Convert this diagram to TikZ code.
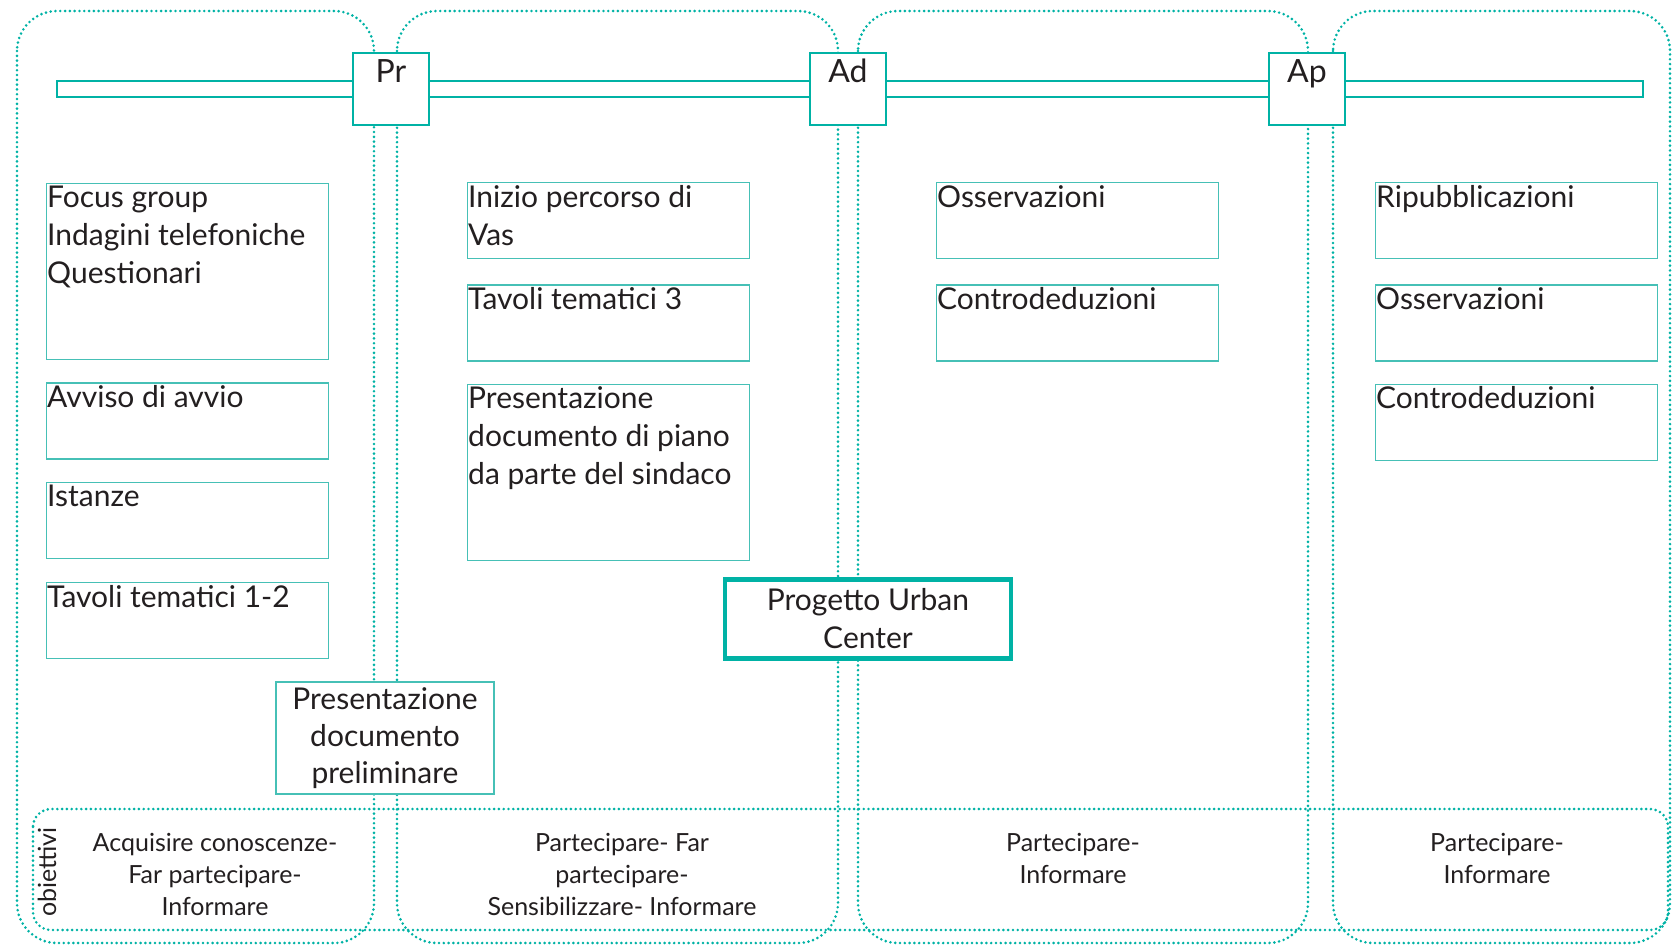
\documentclass[tikz,border=0pt]{standalone}
\usepackage{fontspec}
\setmainfont{Lato}
\usetikzlibrary{positioning}
\definecolor{phaseteal}{RGB}{0,178,165}
\definecolor{itemteal}{RGB}{70,192,182}
\definecolor{textgray}{RGB}{35,31,32}
\tikzset{
    phasebox/.style={draw=phaseteal, line width=2.9pt, line cap=round, dash pattern=on 0pt off 4.8pt, rounded corners=40pt},
    goalbox/.style={draw=phaseteal, line width=2.9pt, line cap=round, dash pattern=on 0pt off 4.8pt, rounded corners=18pt},
    timebar/.style={rectangle, draw=phaseteal, line width=2.3pt, fill=white, minimum width=1586pt, minimum height=16pt, inner sep=0pt},
    stagebox/.style={rectangle, draw=phaseteal, line width=2.6pt, fill=white, minimum width=76pt, minimum height=72pt, inner sep=0pt},
    stagelabel/.style={font=\fontsize{32}{38}\selectfont, text=textgray, inner sep=0pt, anchor=base},
    itembox/.style={rectangle, draw=itemteal, line width=1.3pt, fill=white, minimum width=282pt, minimum height=76pt, inner sep=0pt, anchor=north west},
    itemtext/.style={font=\fontsize{30}{38}\selectfont, text=textgray, align=left, inner xsep=1pt, inner ysep=3pt, anchor=north west},
    goaltext/.style={font=\fontsize{25}{32}\selectfont, text=textgray, align=center, inner sep=0pt},
}
\begin{document}
\begin{tikzpicture}[x=1pt, y=-1pt, node distance=23pt]
\useasboundingbox (0,0) rectangle (1675,945);

% phases and objectives
\foreach \xa/\xb in {17/374, 397/838, 858/1308, 1333/1670}
    \draw[phasebox] (\xa,11) rectangle (\xb,943);
\draw[goalbox] (33,809) rectangle (1668,930);

% timeline
\node[timebar] (bar) at (850,89) {};
\node[stagebox] (pr) at (391,89) {};
\node[stagebox] (ad) at (848,89) {};
\node[stagebox] (ap) at (1307,89) {};
\node[stagelabel] (pr-label) at ([yshift=-31pt]pr.north) {Pr};
\node[stagelabel] (ad-label) at ([yshift=-31pt]ad.north) {Ad};
\node[stagelabel] (ap-label) at ([yshift=-31pt]ap.north) {Ap};

% column 1
\node[itembox, minimum height=176pt] (focus) at (46,183) {};
\node[itembox, below=22pt of focus] (avviso) {};
\node[itembox, below=22pt of avviso] (istanze) {};
\node[itembox, below=23pt of istanze] (tavoli12) {};
\node[itemtext] at (focus.north west) {Focus group\\Indagini telefoniche\\Questionari};
\node[itemtext] at (avviso.north west) {Avviso di avvio};
\node[itemtext] at (istanze.north west) {Istanze};
\node[itemtext] at (tavoli12.north west) {Tavoli tematici 1-2};
\node[itembox, anchor=center, minimum width=218pt, minimum height=112pt, align=center, font=\fontsize{30}{37}\selectfont, text=textgray] (prelim) at (385,738) {Presentazione\\documento\\preliminare};

% column 2
\node[itembox] (vas) at (467,182) {};
\node[itembox, below=25pt of vas] (tavoli3) {};
\node[itembox, minimum height=176pt, below=22pt of tavoli3] (piano) {};
\node[itemtext] at (vas.north west) {Inizio percorso di\\Vas};
\node[itemtext] at (tavoli3.north west) {Tavoli tematici 3};
\node[itemtext] at (piano.north west) {Presentazione\\documento di piano\\da parte del sindaco};
\node[rectangle, draw=phaseteal, line width=4.5pt, fill=white, minimum width=286pt, minimum height=79pt, align=center, font=\fontsize{30}{38}\selectfont, text=textgray] (urban) at (868,619) {Progetto Urban\\Center};

% column 3
\node[itembox] (oss-ad) at (936,182) {};
\node[itembox, below=25pt of oss-ad] (contro-ad) {};
\node[itemtext] at (oss-ad.north west) {Osservazioni};
\node[itemtext] at (contro-ad.north west) {Controdeduzioni};

% column 4
\node[itembox] (ripub) at (1375,182) {};
\node[itembox, below=25pt of ripub] (oss-ap) {};
\node[itembox, below=22pt of oss-ap] (contro-ap) {};
\node[itemtext] at (ripub.north west) {Ripubblicazioni};
\node[itemtext] at (oss-ap.north west) {Osservazioni};
\node[itemtext] at (contro-ap.north west) {Controdeduzioni};

% objectives
\node[goaltext, rotate=90] (goal-title) at (47,872) {obiettivi};
\node[goaltext] (goal-pr) at (215,874) {Acquisire conoscenze-\\Far partecipare-\\Informare};
\node[goaltext] (goal-vas) at (622,874) {Partecipare- Far\\partecipare-\\Sensibilizzare- Informare};
\node[goaltext] (goal-ad) at (1073,858) {Partecipare-\\Informare};
\node[goaltext] (goal-ap) at (1497,858) {Partecipare-\\Informare};

\end{tikzpicture}
\end{document}
